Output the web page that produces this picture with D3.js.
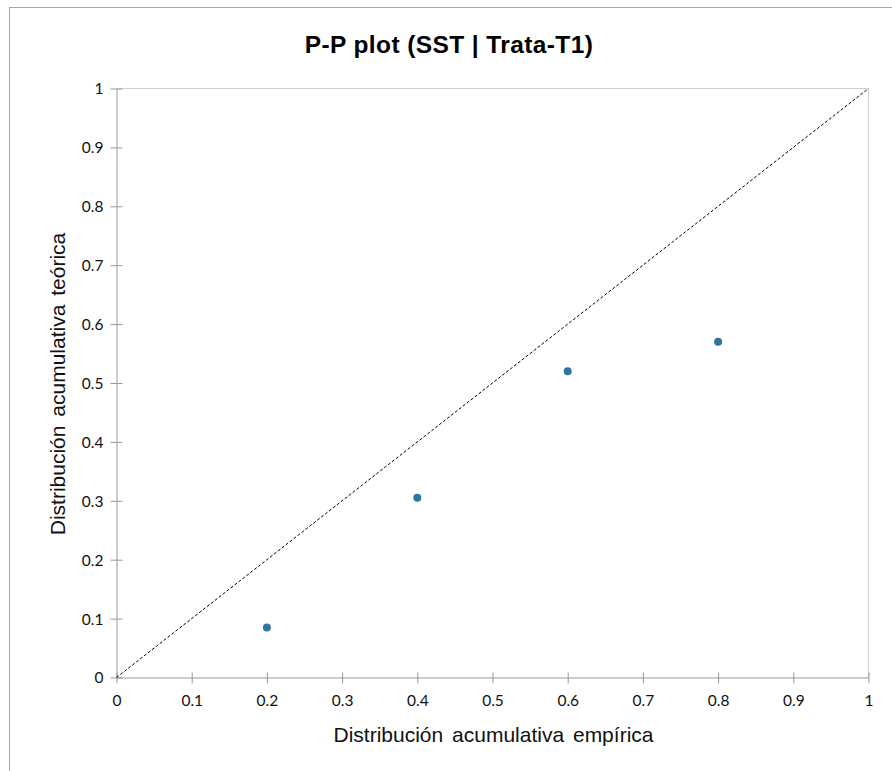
<!DOCTYPE html>
<html><head><meta charset="utf-8">
<script src="https://cdn.jsdelivr.net/npm/d3@7"></script>
<style>body{margin:0;background:#fff}</style>
</head><body>
<script>
const empirical = [0.2, 0.4, 0.6, 0.8];
const theoretical = [0.085, 0.305, 0.52, 0.57];
const tickValues = [0, 0.1, 0.2, 0.3, 0.4, 0.5, 0.6, 0.7, 0.8, 0.9, 1];
const titleText = "P-P plot (SST | Trata-T1)";
const xLabel = "Distribución acumulativa empírica";
const yLabel = "Distribución acumulativa teórica";

const W = 892, H = 771;
const svg = d3.select("body").append("svg").attr("width", W).attr("height", H);
svg.append("rect").attr("x", 9.5).attr("y", 7.5).attr("width", 900).attr("height", 800)
  .attr("fill", "none").attr("stroke", "#a6a6a6").attr("stroke-width", 1);

const x = d3.scaleLinear().domain([0, 1]).range([116.5, 868.5]);
const y = d3.scaleLinear().domain([0, 1]).range([677.5, 88.5]);

svg.append("line").attr("x1", x(0)).attr("x2", x(1)).attr("y1", y(1)).attr("y2", y(1)).attr("stroke", "#d0d0d0");
svg.append("line").attr("x1", x(1)).attr("x2", x(1)).attr("y1", y(0)).attr("y2", y(1)).attr("stroke", "#d0d0d0");

const xAxis = svg.append("g").attr("transform", `translate(0,${y(0)})`)
  .call(d3.axisBottom(x).tickValues(tickValues).tickFormat(d3.format("")).tickSize(6).tickSizeOuter(0));
xAxis.selectAll(".tick line").attr("y1", -5).attr("y2", 6);
xAxis.selectAll(".tick text").attr("dy", 0).attr("y", 28);
const yAxis = svg.append("g").attr("transform", `translate(${x(0)},0)`)
  .call(d3.axisLeft(y).tickValues(tickValues).tickFormat(d3.format("")).tickSize(6).tickSizeOuter(0));
yAxis.selectAll(".tick line").attr("x1", 6).attr("x2", -6);
yAxis.selectAll(".tick text").attr("x", -13).attr("dy", "0.35em");
[xAxis, yAxis].forEach(g => {
  g.select(".domain").attr("stroke", "#999");
  g.selectAll(".tick line").attr("stroke", "#999");
  g.selectAll(".tick text").attr("font-family", "Lato, 'Open Sans', sans-serif").attr("font-size", 15.5).attr("fill", "#111");
});

svg.append("line").attr("x1", x(0)).attr("y1", y(0)).attr("x2", x(1)).attr("y2", y(1))
  .attr("stroke", "#000").attr("stroke-width", 1).attr("stroke-dasharray", "3,2");

svg.selectAll("circle.pt").data(empirical).enter().append("circle").attr("class", "pt")
  .attr("cx", d => x(d)).attr("cy", (d, i) => y(theoretical[i])).attr("r", 4)
  .attr("fill", "#2e75a3");

svg.append("text").attr("x", 449).attr("y", 53).attr("text-anchor", "middle")
  .attr("font-family", "'Liberation Sans', Arial, sans-serif").attr("font-weight", "bold").attr("font-size", 24.5)
  .attr("letter-spacing", 0.4).attr("fill", "#000").text(titleText);
svg.append("text").attr("x", (x(0) + x(1)) / 2 + 1).attr("y", 742).attr("text-anchor", "middle")
  .attr("font-family", "'Liberation Sans', Arial, sans-serif").attr("font-size", 21).attr("word-spacing", 3)
  .attr("fill", "#111").text(xLabel);
svg.append("text").attr("transform", `translate(65,${(y(0) + y(1)) / 2 + 1}) rotate(-90)`).attr("text-anchor", "middle")
  .attr("font-family", "'Liberation Sans', Arial, sans-serif").attr("font-size", 21).attr("word-spacing", 3)
  .attr("fill", "#111").text(yLabel);
</script>
</body></html>
